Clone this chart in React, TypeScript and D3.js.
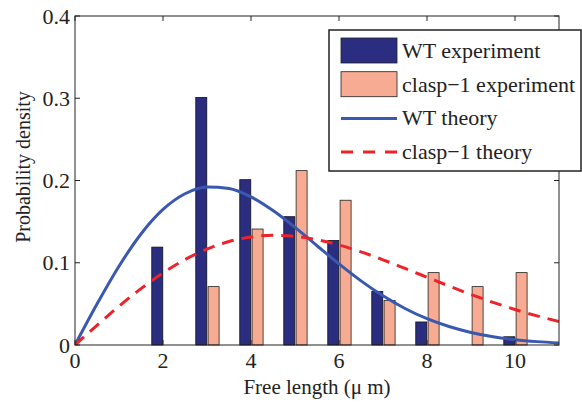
import React from 'react';
import * as d3 from 'd3';

// histogram bins (free length, µm)
const bins = [2, 3, 4, 5, 6, 7, 8, 9, 10];
const wtExperiment = [0.119, 0.301, 0.201, 0.156, 0.127, 0.065, 0.028, 0, 0.01];
const claspExperiment = [0, 0.071, 0.141, 0.212, 0.176, 0.054, 0.088, 0.071, 0.088];

// theory curves
const theoryX = [0, 0.5, 1, 1.5, 2, 2.5, 3, 3.5, 4, 4.5, 5, 5.5, 6, 6.5, 7, 7.5, 8, 8.5, 9, 9.5, 10, 10.5, 11];
const wtTheory = [0, 0.0498, 0.0958, 0.135, 0.1648, 0.1839, 0.1921, 0.1903, 0.18, 0.1634, 0.143, 0.1207, 0.0986, 0.078, 0.0598, 0.0444, 0.032, 0.0225, 0.0153, 0.0101, 0.0065, 0.0041, 0.0025];
const claspTheory = [0, 0.024, 0.0471, 0.0686, 0.0877, 0.1039, 0.1166, 0.1258, 0.1313, 0.1333, 0.132, 0.128, 0.1215, 0.1132, 0.1036, 0.0931, 0.0824, 0.0717, 0.0614, 0.0519, 0.0431, 0.0354, 0.0286];

const xTicks = [0, 2, 4, 6, 8, 10];
const yTicks = [0, 0.1, 0.2, 0.3, 0.4];
const legendLabels = ['WT experiment', 'clasp\u22121 experiment', 'WT theory', 'clasp\u22121 theory'];

const WT_FILL = '#2b2e80';
const CLASP_FILL = '#f7ab92';
const BLUE = '#3a58b0';
const RED = '#ee2229';
const INK = '#222';

const textStyle = (size: number): React.CSSProperties => ({ fontFamily: 'Liberation Serif', fontSize: size });

const App = () => {
  const W = 582;
  const H = 407;
  const left = 75;
  const right = 559;
  const top = 16;
  const bottom = 345;

  const x = d3.scaleLinear().domain([0, 11]).range([left, right]);
  const y = d3.scaleLinear().domain([0, 0.4]).range([bottom, top]);
  const barW = x(0.25) - x(0);

  const line = d3
    .line<number>()
    .x((_, i) => x(theoryX[i]))
    .y((d) => y(d))
    .curve(d3.curveMonotoneX);

  const tickLen = 5;

  return (
    <svg width={W} height={H} style={{ position: 'absolute', left: 0, top: 0 }}>
      <defs>
        <clipPath id="plot">
          <rect x={left} y={top} width={right - left} height={bottom - top} />
        </clipPath>
      </defs>
      <rect x={0} y={0} width={W} height={H} fill="#fff" />

      {/* bars */}
      {bins.map((b, i) => (
        <rect
          key={'wt' + b}
          x={x(b - 0.255)}
          y={y(wtExperiment[i])}
          width={barW}
          height={bottom - y(wtExperiment[i])}
          fill={WT_FILL}
          stroke="#111"
          strokeWidth={0.8}
        />
      ))}
      {bins.map((b, i) => (
        <rect
          key={'cl' + b}
          x={x(b + 0.025)}
          y={y(claspExperiment[i])}
          width={barW}
          height={bottom - y(claspExperiment[i])}
          fill={CLASP_FILL}
          stroke="#222"
          strokeWidth={0.8}
        />
      ))}

      {/* theory curves */}
      <g clipPath="url(#plot)">
        <path d={line(wtTheory) || ''} fill="none" stroke={BLUE} strokeWidth={3} />
        <path d={line(claspTheory) || ''} fill="none" stroke={RED} strokeWidth={3} strokeDasharray="12,8" />
      </g>

      {/* axes box */}
      <rect x={left} y={top} width={right - left} height={bottom - top} fill="none" stroke={INK} strokeWidth={1} />
      {xTicks.map((t) => (
        <g key={'xt' + t}>
          <line x1={x(t)} x2={x(t)} y1={bottom} y2={bottom - tickLen} stroke={INK} />
          <line x1={x(t)} x2={x(t)} y1={top} y2={top + tickLen} stroke={INK} />
          <text x={x(t)} y={bottom + 23} textAnchor="middle" style={textStyle(22)} fill={INK}>
            {t}
          </text>
        </g>
      ))}
      {yTicks.map((t) => (
        <g key={'yt' + t}>
          <line x1={left} x2={left + tickLen} y1={y(t)} y2={y(t)} stroke={INK} />
          <line x1={right} x2={right - tickLen} y1={y(t)} y2={y(t)} stroke={INK} />
          <text x={left - 5} y={y(t) + 7.5} textAnchor="end" style={textStyle(22)} fill={INK}>
            {t === 0 ? '0' : t.toFixed(1)}
          </text>
        </g>
      ))}
      <text x={317} y={394} textAnchor="middle" style={textStyle(21)} fill={INK}>
        Free length (μ m)
      </text>
      <text transform="translate(30,167) rotate(-90)" textAnchor="middle" style={textStyle(20)} fill={INK}>
        Probability density
      </text>

      {/* legend */}
      <g>
        <rect x={329} y={30} width={252} height={141} fill="#fff" stroke={INK} strokeWidth={1.5} />
        {legendLabels.map((lab, i) => {
          const cy = 51 + i * 33.7;
          return (
            <g key={lab}>
              {i === 0 && <rect x={341} y={cy - 13} width={56} height={25} fill={WT_FILL} stroke={INK} strokeWidth={0.8} />}
              {i === 1 && <rect x={341} y={cy - 13} width={56} height={25} fill={CLASP_FILL} stroke={INK} strokeWidth={0.8} />}
              {i === 2 && <line x1={341} x2={397} y1={cy} y2={cy} stroke={BLUE} strokeWidth={3} />}
              {i === 3 && <line x1={341} x2={397} y1={cy} y2={cy} stroke={RED} strokeWidth={3} strokeDasharray="12,10" />}
              <text x={402} y={cy + 7} style={textStyle(22)} fill={INK}>
                {lab}
              </text>
            </g>
          );
        })}
      </g>
    </svg>
  );
};

export default App;
